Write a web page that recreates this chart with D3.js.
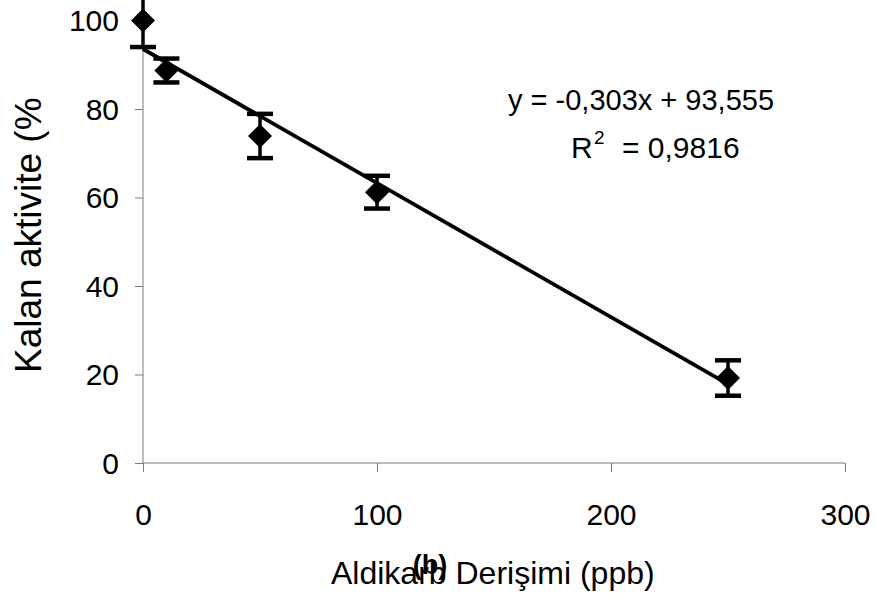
<!DOCTYPE html>
<html>
<head>
<meta charset="utf-8">
<script src="https://cdn.jsdelivr.net/npm/d3@7"></script>
<style>
  html, body { margin: 0; padding: 0; background: #fff; }
  svg { display: block; }
  text { font-family: "Liberation Sans", Arial, sans-serif; fill: #000; }
</style>
</head>
<body>
<svg id="chart" width="878" height="607"></svg>
<script>
// Data
const concentrations = [0, 10, 50, 100, 250];
const activity = [100, 88.7, 73.9, 61.2, 19.2];
const errors = [6, 2.7, 5, 3.7, 4];
const xTicks = [0, 100, 200, 300];
const yTicks = [0, 20, 40, 60, 80, 100];
const slope = -0.303;
const intercept = 93.555;
const trendRange = [0, 250];
const equationText = "y = -0,303x + 93,555";
const r2Value = "0,9816";
const xTitle = "Aldikarb Derişimi (ppb)";
const yTitle = "Kalan aktivite (%)";
const panelLabel = "(b)";

const svg = d3.select("#chart");
const x = d3.scaleLinear().domain([0, 300]).range([143, 845]);
const y = d3.scaleLinear().domain([0, 100]).range([463, 20.5]);

const axisColor = "#7a7a7a";

// X axis
const xAxis = svg.append("g").attr("transform", `translate(0,${y(0)})`)
  .call(d3.axisBottom(x).tickValues(xTicks).tickSize(9).tickPadding(32).tickFormat(d3.format("d")));
xAxis.select(".domain").attr("stroke", axisColor).attr("d", `M${x(0)},0H${x(300)}`);
xAxis.selectAll(".tick line").attr("stroke", axisColor);
xAxis.selectAll(".tick text").attr("font-size", 30).attr("dy", "0.71em")
  .attr("font-family", "Liberation Sans, Arial, sans-serif").attr("fill", "#000");

// Y axis
const yAxis = svg.append("g").attr("transform", `translate(${x(0)},0)`)
  .call(d3.axisLeft(y).tickValues(yTicks).tickSize(8).tickPadding(16).tickFormat(d3.format("d")));
yAxis.select(".domain").attr("stroke", axisColor).attr("d", `M0,${y(0)}V${y(100)}`);
yAxis.selectAll(".tick line").attr("stroke", axisColor);
yAxis.selectAll(".tick text").attr("font-size", 30).attr("dy", "0.34em")
  .attr("font-family", "Liberation Sans, Arial, sans-serif").attr("fill", "#000");

// Trendline
svg.append("line")
  .attr("x1", x(trendRange[0])).attr("y1", y(slope * trendRange[0] + intercept))
  .attr("x2", x(trendRange[1])).attr("y2", y(slope * trendRange[1] + intercept))
  .attr("stroke", "#000").attr("stroke-width", 3.8);

const pts = concentrations.map((c, i) => ({ c, v: activity[i], e: errors[i] }));

// Error bars
const eb = svg.append("g");
pts.forEach(p => {
  const cx = x(p.c);
  eb.append("line").attr("x1", cx).attr("x2", cx)
    .attr("y1", y(p.v + p.e)).attr("y2", y(p.v - p.e))
    .attr("stroke", "#000").attr("stroke-width", 3.5);
  [p.v + p.e, p.v - p.e].forEach(val => {
    eb.append("line").attr("x1", cx - 13).attr("x2", cx + 13)
      .attr("y1", y(val)).attr("y2", y(val))
      .attr("stroke", "#000").attr("stroke-width", 4.5);
  });
});

// Diamond markers
svg.append("g").selectAll("path").data(pts).join("path")
  .attr("d", p => {
    const cx = x(p.c), cy = y(p.v), r = 12;
    return `M${cx},${cy - r}L${cx + r},${cy}L${cx},${cy + r}L${cx - r},${cy}Z`;
  })
  .attr("fill", "#000");

// Equation
svg.append("text").attr("x", 508).attr("y", 110).attr("font-size", 29).text(equationText);
const r2 = svg.append("text").attr("y", 158).attr("font-size", 30);
r2.append("tspan").attr("x", 571).text("R");
r2.append("tspan").attr("x", 594).attr("font-size", 19).attr("dy", -14).text("2");
r2.append("tspan").attr("x", 622).attr("dy", 14).text("= " + r2Value);

// Axis titles
svg.append("defs").append("clipPath").attr("id", "yclip")
  .append("rect").attr("x", 0).attr("y", 98).attr("width", 100).attr("height", 400);
svg.append("g").attr("clip-path", "url(#yclip)")
  .append("text")
  .attr("transform", "translate(41,373) rotate(-90)")
  .attr("font-size", 37)
  .text(yTitle);

svg.append("text").attr("x", 331).attr("y", 584).attr("font-size", 32).text(xTitle);
svg.append("text").attr("x", 430).attr("y", 574).attr("font-size", 27)
  .attr("font-weight", "bold").attr("text-anchor", "middle").text(panelLabel);
</script>
</body>
</html>
